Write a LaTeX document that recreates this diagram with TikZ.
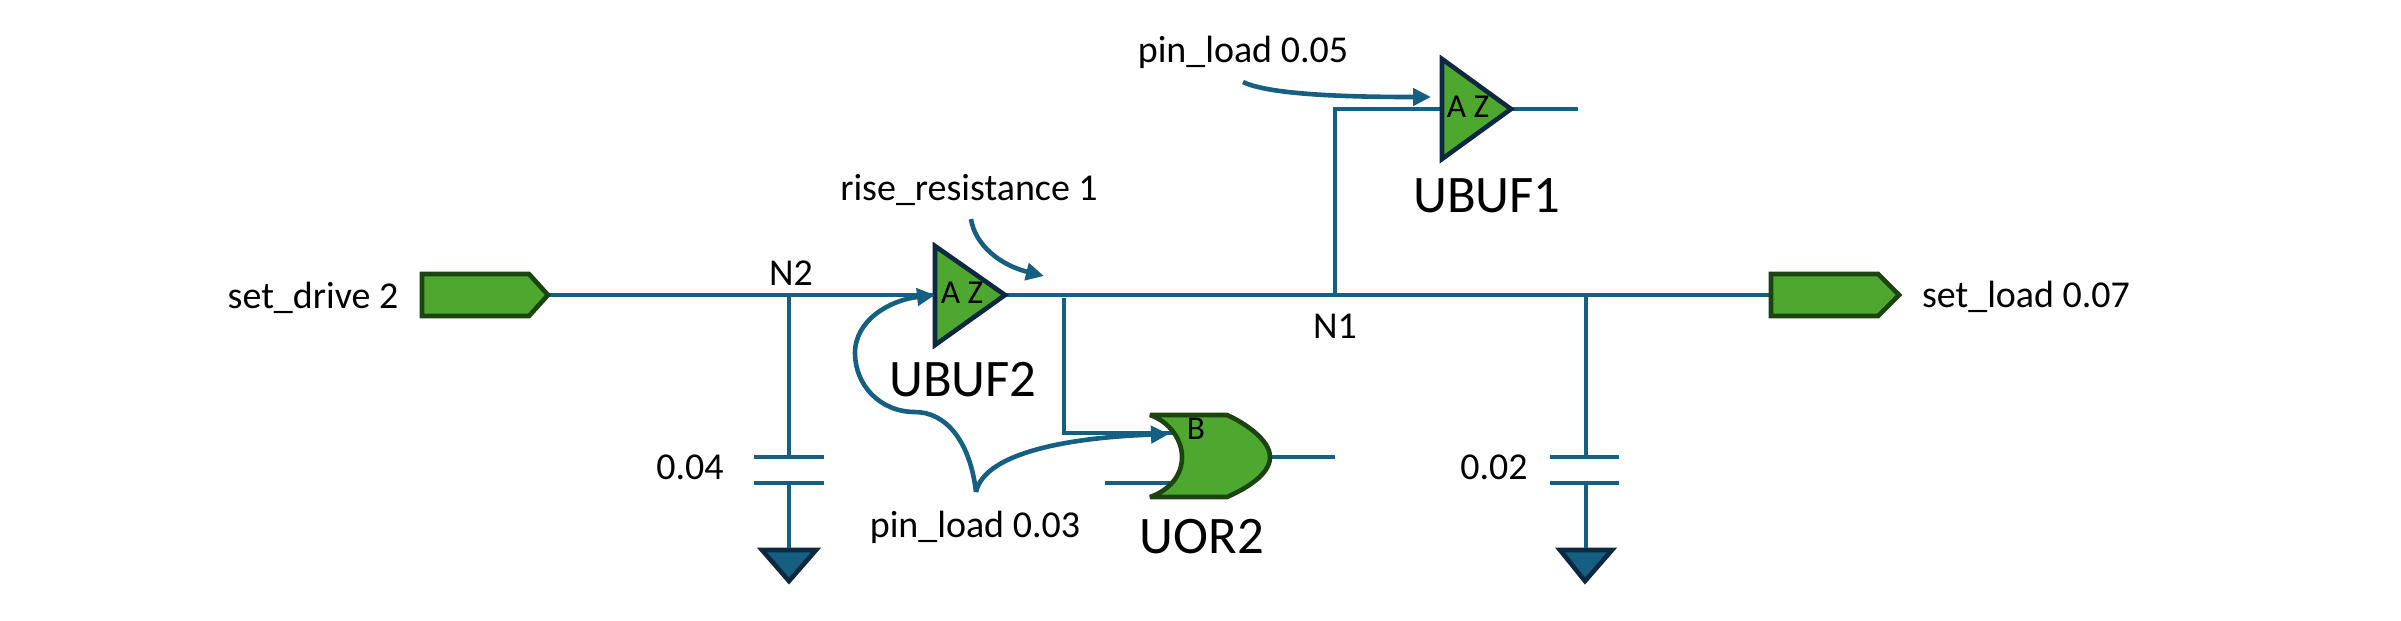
\documentclass[tikz,border=0pt]{standalone}
\usepackage{fontspec}
\setmainfont{Carlito}
\usetikzlibrary{arrows.meta}
\definecolor{WireBlue}{HTML}{156082}
\definecolor{GateGreen}{HTML}{4EA72E}
\definecolor{PortEdge}{HTML}{1C4410}
\definecolor{GateEdge}{HTML}{0E2841}
\tikzset{
  wire/.style={draw=WireBlue, line width=0.46mm},
  note/.style={-{Triangle[length=1.8mm, width=1.7mm]}, draw=WireBlue, fill=none, line width=0.46mm},
  port/.style={fill=GateGreen, draw=PortEdge, line width=0.46mm},
  buffer/.style={fill=GateGreen, draw=GateEdge, line width=0.46mm},
  ground/.style={fill=WireBlue, draw=GateEdge, line width=0.46mm},
  tag/.style={font=\fontsize{10.8}{13}\selectfont, inner sep=0pt, anchor=base, text=black},
  pintag/.style={font=\fontsize{9.5}{11}\selectfont, inner sep=0pt, anchor=base, text=black},
  celltag/.style={font=\fontsize{15}{18}\selectfont, inner sep=0pt, anchor=base, text=black},
}

\begin{document}
\begin{tikzpicture}[x=0.01cm, y=-0.01cm]
  \useasboundingbox (0,0) rectangle (2401,620);

  % Junctions and pins
  \coordinate (inTip) at (548,295);
  \coordinate (bufTwoA) at (935,295);
  \coordinate (bufTwoZ) at (1005,295);
  \coordinate (loadPort) at (1771,295);
  \coordinate (nodeTwo) at (789,295);
  \coordinate (nodeOne) at (1335,295);
  \coordinate (dropTap) at (1064,298);
  \coordinate (dropBend) at (1064,433);
  \coordinate (orB) at (1173,433);
  \coordinate (orA) at (1171,483);
  \coordinate (orAEnd) at (1105,483);
  \coordinate (orZ) at (1270,457);
  \coordinate (orZEnd) at (1335,457);
  \coordinate (riseTap) at (1586,295);
  \coordinate (bufOneBend) at (1335,109);
  \coordinate (bufOneA) at (1442,109);
  \coordinate (bufOneZ) at (1511,109);
  \coordinate (bufOneEnd) at (1578,109);

  % Wires
  \draw[wire] (inTip) -- (bufTwoA);
  \draw[wire] (bufTwoZ) -- (loadPort);
  \draw[wire] (nodeOne) -- (bufOneBend) -- (bufOneA);
  \draw[wire] (bufOneZ) -- (bufOneEnd);
  \draw[wire] (dropTap) -- (dropBend) -- (orB);
  \draw[wire] (orAEnd) -- (orA);
  \draw[wire] (orZ) -- (orZEnd);

  % Capacitors
  \coordinate (capTwoTop) at (789,457);
  \coordinate (capTwoBot) at (789,483);
  \coordinate (gndTwo) at (789,548);
  \draw[wire] (nodeTwo) -- (capTwoTop);
  \draw[wire] (754,457) -- (824,457);
  \draw[wire] (754,483) -- (824,483);
  \draw[ground] (762,550) -- (816,550) -- (789,581) -- cycle;
  \draw[wire] (capTwoBot) -- (gndTwo);

  \coordinate (capOneTop) at (1586,457);
  \coordinate (capOneBot) at (1586,483);
  \coordinate (gndOne) at (1586,548);
  \draw[wire] (riseTap) -- (capOneTop);
  \draw[wire] (1550,457) -- (1619,457);
  \draw[wire] (1550,483) -- (1619,483);
  \draw[ground] (1560,550) -- (1612,550) -- (1585,581) -- cycle;
  \draw[wire] (capOneBot) -- (gndOne);

  % Ports
  \draw[port] (422,274) -- (529,274) -- (548,295) -- (529,316) -- (422,316) -- cycle;
  \draw[port] (1771,274) -- (1878,274) -- (1899,295) -- (1878,316) -- (1771,316) -- cycle;

  % Buffers
  \draw[buffer] (935,246) -- (1005,295) -- (935,345) -- cycle;
  \draw[buffer] (1442,59) -- (1511,109) -- (1442,159) -- cycle;

  % OR gate
  \draw[port, miter limit=2] (1150,415) -- (1227,415)
    .. controls (1245,423) and (1270,440) .. (1270,457)
    .. controls (1270,475) and (1245,489) .. (1227,497)
    -- (1150,497)
    .. controls (1170,490) and (1182,475) .. (1182,457)
    .. controls (1182,440) and (1170,422) .. (1150,415) -- cycle;

  % Annotation arrows
  \coordinate (riseFrom) at (971,219);
  \coordinate (riseTo) at (1044,276);
  \coordinate (loadFrom) at (976,492);
  \coordinate (loadHump) at (915,412);
  \coordinate (loadSide) at (855,353);
  \coordinate (orNote) at (1169,434);
  \coordinate (upFrom) at (1243,82);
  \coordinate (upTo) at (1431,97);
  \draw[note] (riseFrom) .. controls (975,245) and (1000,265) .. (riseTo);
  \draw[note] (loadFrom) .. controls (970,440) and (945,412) .. (loadHump)
    .. controls (880,412) and (855,385) .. (loadSide)
    .. controls (855,320) and (890,300) .. (bufTwoA);
  \draw[note] (loadFrom) .. controls (985,450) and (1080,437) .. (orNote);
  \draw[note] (upFrom) .. controls (1270,95) and (1350,97) .. (upTo);

  % Labels
  \node[tag] (driveLabel) at (313,308) {set\_drive 2};
  \node[tag] (loadLabel) at (2026,307) {set\_load 0.07};
  \node[tag] (nTwoLabel) at (791,285) {N2};
  \node[tag] (nOneLabel) at (1335,338) {N1};
  \node[tag] (capTwoLabel) at (690,479) {0.04};
  \node[tag] (capOneLabel) at (1494,479) {0.02};
  \node[tag] (riseLabel) at (969,200) {rise\_resistance 1};
  \node[tag] (pinLowLabel) at (975,537) {pin\_load 0.03};
  \node[tag] (pinUpLabel) at (1243,62) {pin\_load 0.05};

  \node[pintag] (bufTwoPins) at (962,303) {A Z};
  \node[pintag] (bufOnePins) at (1468,117) {A Z};
  \node[pintag] (orPin) at (1196,439) {B};

  \node[celltag] (bufTwoName) at (963,396) {UBUF2};
  \node[celltag] (bufOneName) at (1487,212) {UBUF1};
  \node[celltag] (orName) at (1202,553) {UOR2};
\end{tikzpicture}
\end{document}
